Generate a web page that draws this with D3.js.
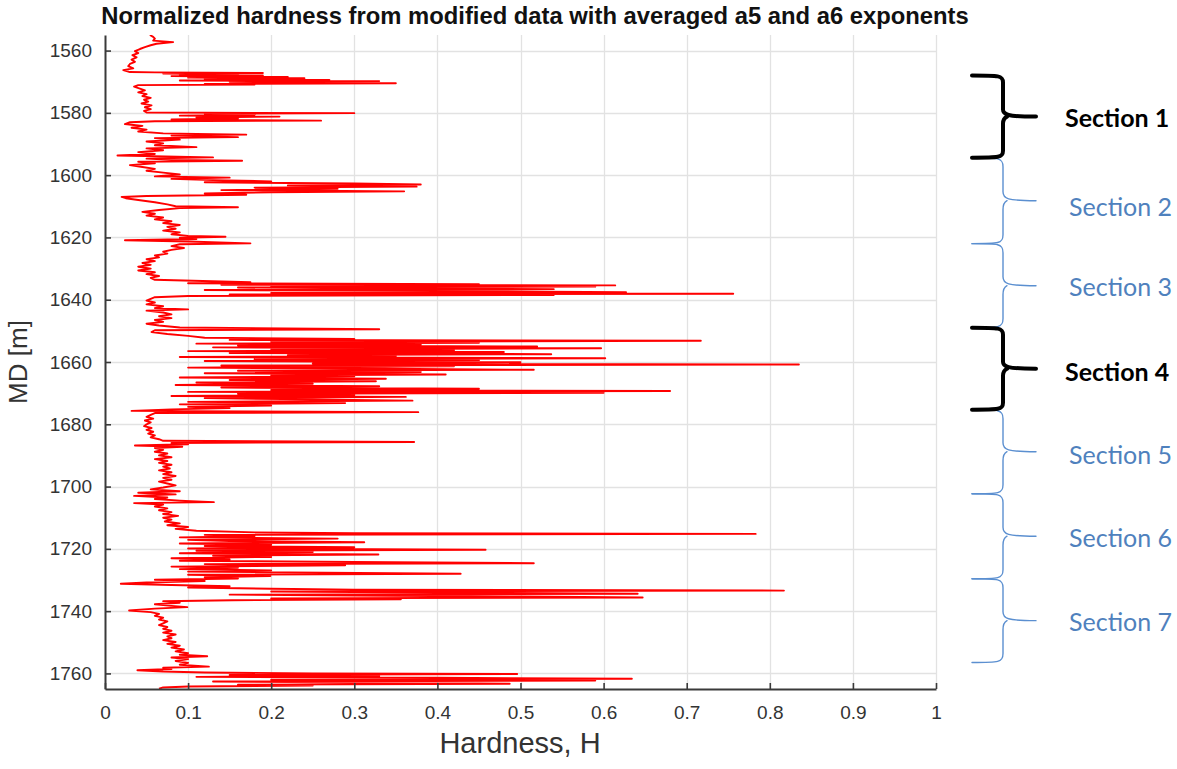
<!DOCTYPE html>
<html>
<head>
<meta charset="utf-8">
<script src="https://cdn.jsdelivr.net/npm/d3@7"></script>
<style>
  body { margin: 0; background: #fff; }
  svg { display: block; }
</style>
</head>
<body>
<div id="wrapper"></div>
<script>

// hardness log, [depth MD (m), normalized hardness H]
const log1555 = [
  [1555.0,.054],[1555.6,.058],[1556.2,.060],[1556.8,.058],[1557.3,.082],[1557.8,.062],[1558.3,.055],[1558.9,.048],
  [1559.5,.042],[1560.2,.036],[1560.8,.040],[1561.5,.033],[1562.2,.038],[1562.9,.032],[1563.6,.036],[1564.3,.030],
  [1565.0,.028],[1565.7,.034],[1566.3,.022],[1566.9,.030],
  [1567.0,.060],[1567.2,.190],[1567.4,.070],[1567.6,.160],[1567.8,.090],[1568.0,.190],[1568.2,.080],[1568.5,.220],
  [1568.7,.100],[1568.9,.240],[1569.1,.120],[1569.4,.270],[1569.6,.090],[1569.8,.330],[1570.0,.150],[1570.3,.270],
  [1570.5,.350],[1570.7,.120],[1570.9,.180],[1571.1,.040],
  [1571.6,.035],[1572.2,.042],[1572.8,.048],[1573.4,.040],[1574.0,.050],[1574.6,.045],[1575.2,.055],[1575.8,.047],
  [1576.4,.052],[1577.0,.044],[1577.6,.056],[1578.2,.048],[1578.8,.055],[1579.4,.047],
  [1579.9,.050],[1580.1,.300],[1580.3,.120],[1580.6,.180],[1580.9,.090],[1581.2,.210],[1581.5,.110],[1581.8,.160],
  [1582.1,.080],[1582.5,.260],[1582.7,.060],[1583.0,.030],
  [1583.6,.024],[1584.2,.045],[1584.8,.032],[1585.4,.050],[1586.0,.040],[1586.6,.070],[1587.0,.170],[1587.3,.080],
  [1587.8,.160],[1588.1,.060],[1588.6,.090],[1589.2,.050],[1589.8,.070],[1590.4,.060],[1591.0,.110],[1591.4,.050],
  [1592.0,.070],[1592.6,.040],[1593.2,.060],[1593.7,.015],[1594.3,.130],[1594.7,.050],[1595.1,.080],[1595.4,.165],
  [1595.7,.040],[1596.2,.060],[1596.8,.030],[1597.4,.045],[1598.0,.060],[1598.6,.050],[1599.2,.070],[1599.8,.090]
];

const log1600 = [
  [1600.4,.060],[1600.8,.150],[1601.2,.080],[1601.6,.130],[1602.0,.200],[1602.3,.120],[1602.7,.300],[1603.0,.380],
  [1603.3,.220],[1603.7,.375],[1604.0,.180],[1604.4,.280],[1604.8,.140],[1605.2,.360],[1605.5,.200],[1605.9,.120],
  [1606.3,.170],[1606.7,.050],[1607.0,.020],[1607.4,.025],
  [1608.0,.040],[1608.7,.060],[1609.4,.075],[1610.0,.085],[1610.3,.160],[1610.6,.090],[1611.2,.065],[1611.8,.045],
  [1612.4,.060],[1613.0,.050],[1613.6,.070],[1614.2,.060],[1614.8,.080],[1615.4,.070],[1616.0,.090],[1616.6,.075],
  [1617.2,.085],[1617.8,.070],[1618.4,.090],[1619.0,.080],
  [1619.5,.100],[1619.8,.145],[1620.1,.090],[1620.5,.110],[1620.9,.024],[1621.3,.100],[1621.9,.175],[1622.2,.090],
  [1622.8,.080],[1623.4,.095],[1624.0,.080],[1624.6,.070],[1625.2,.075],[1625.8,.060],[1626.4,.065],[1627.0,.050],
  [1627.6,.060],[1628.2,.045],[1628.8,.055],[1629.4,.040],[1630.0,.055],[1630.6,.040],[1631.2,.060],[1631.8,.050],
  [1632.4,.065],[1633.0,.055],[1633.6,.060],
  [1634.4,.175],[1634.7,.100],[1635.0,.450],[1635.2,.140],[1635.4,.614],[1635.6,.200],[1635.8,.590],[1636.1,.160],
  [1636.4,.350],[1636.6,.540],[1636.9,.120],[1637.2,.400],[1637.6,.627],[1637.8,.200],[1638.1,.756],[1638.3,.150],
  [1638.5,.540],[1638.8,.100],[1639.2,.060],[1639.7,.055],
  [1640.3,.050],[1640.9,.060],[1641.5,.050],[1642.1,.070],[1642.7,.060],[1643.1,.100],[1643.5,.050],[1644.1,.070],
  [1644.7,.080],[1645.3,.065],[1645.9,.080],[1646.5,.060],[1647.1,.070],[1647.7,.050],[1648.3,.065],[1648.9,.090],
  [1649.5,.330],[1649.8,.060]
];

const log1650 = [
  [1650.4,.056],[1651.0,.075],[1651.6,.100],
  [1652.2,.120],[1652.6,.300],[1652.9,.150],[1653.2,.717],[1653.5,.200],[1653.8,.450],[1654.1,.110],[1654.4,.380],
  [1654.7,.160],[1655.0,.520],[1655.3,.130],[1655.6,.597],[1655.9,.200],[1656.2,.420],[1656.5,.100],[1656.8,.480],
  [1657.1,.150],[1657.5,.537],[1657.8,.220],[1658.1,.350],[1658.4,.090],[1658.8,.602],[1659.1,.180],[1659.4,.450],
  [1659.7,.120],[1660.1,.500],[1660.5,.250],[1660.8,.835],[1661.1,.140],[1661.4,.420],[1661.8,.100],[1662.1,.300],
  [1662.5,.516],[1662.8,.160],[1663.2,.380],[1663.6,.120],[1664.0,.410],[1664.3,.200],[1664.6,.300],[1665.0,.090],
  [1665.4,.338],[1665.8,.150],[1666.2,.326],[1666.6,.110],[1667.0,.250],[1667.4,.085],[1667.8,.330],[1668.2,.140],
  [1668.6,.450],[1669.0,.200],[1669.3,.680],[1669.6,.100],[1669.9,.600],[1670.2,.160],[1670.6,.300],[1670.9,.080],
  [1671.2,.362],[1671.6,.120],[1672.0,.250],[1672.4,.370],[1672.8,.100],[1673.2,.289],[1673.6,.090],[1674.0,.200],
  [1674.4,.100],[1674.8,.150],[1675.2,.080],[1675.7,.032],[1676.1,.377],[1676.4,.060],
  [1677.0,.055],[1677.6,.050],[1678.2,.058],[1678.8,.048],[1679.4,.055],[1680.0,.050],[1680.6,.047],[1681.2,.056],
  [1681.8,.050],[1682.4,.058],[1683.0,.052],[1683.6,.060],[1684.2,.055],[1684.8,.065],[1685.3,.070],[1685.7,.372],
  [1686.0,.080],[1686.4,.100],[1686.8,.036],[1687.2,.093],[1687.6,.060],[1688.2,.070],[1688.8,.060],[1689.4,.075],
  [1690.0,.065],[1690.6,.080],[1691.2,.060],[1691.8,.075],[1692.4,.065],[1693.0,.080],[1693.6,.070],[1694.2,.078],
  [1694.8,.065],[1695.4,.080],[1696.0,.070],[1696.6,.085],[1697.2,.070],[1697.8,.080],[1698.4,.065],[1699.0,.075],
  [1699.6,.085]
];

const log1700 = [
  [1700.3,.070],[1700.9,.055],[1701.5,.090],[1702.0,.040],[1702.5,.085],[1703.0,.035],[1703.5,.075],[1704.0,.060],
  [1704.5,.090],[1705.0,.131],[1705.3,.035],[1705.8,.070],
  [1706.4,.060],[1707.0,.075],[1707.6,.065],[1708.2,.080],[1708.8,.070],[1709.4,.088],[1710.0,.070],[1710.6,.080],
  [1711.2,.072],[1711.8,.090],[1712.4,.075],[1713.0,.100],[1713.6,.085],[1714.2,.110],
  [1714.7,.180],[1715.0,.300],[1715.2,.783],[1715.5,.120],[1715.9,.180],[1716.3,.090],[1716.7,.280],[1717.1,.100],
  [1717.5,.150],[1717.9,.312],[1718.3,.090],[1718.7,.200],[1719.1,.120],[1719.5,.300],[1719.9,.100],[1720.3,.458],
  [1720.6,.110],[1721.0,.250],[1721.4,.090],[1721.8,.329],[1722.2,.130],[1722.6,.200],[1723.0,.080],[1723.4,.150],
  [1723.8,.090],[1724.2,.300],[1724.6,.516],[1724.9,.120],[1725.3,.289],[1725.7,.080],[1726.1,.160],[1726.5,.090],
  [1726.9,.200],[1727.3,.100],[1727.7,.304],[1728.0,.428],[1728.3,.100],[1728.7,.199],[1729.1,.120],[1729.5,.160],
  [1729.9,.060],[1730.3,.120],[1730.8,.050],[1731.2,.019],[1731.6,.080],[1732.0,.150],[1732.4,.100],[1732.8,.200],
  [1733.1,.300],[1733.4,.817],[1733.7,.200],[1734.0,.400],[1734.4,.641],[1734.7,.150],[1735.0,.300],[1735.3,.500],
  [1735.6,.647],[1735.9,.200],[1736.2,.356],[1736.5,.153],[1736.8,.070],[1737.3,.090],[1737.8,.060],[1738.3,.080],
  [1738.7,.099],[1739.2,.060],[1739.8,.029]
];

const log1740 = [
  [1740.3,.055],[1740.9,.065],[1741.5,.060],[1742.1,.070],[1742.7,.065],[1743.3,.075],[1743.9,.070],[1744.5,.065],
  [1745.1,.075],[1745.7,.070],[1746.3,.080],[1746.9,.070],[1747.5,.085],[1748.1,.075],[1748.7,.080],[1749.3,.070],
  [1749.9,.085],[1750.5,.075],[1751.1,.090],[1751.7,.080],[1752.3,.095],[1752.9,.085],[1753.5,.100],[1754.0,.090],
  [1754.5,.123],[1754.9,.080],[1755.4,.100],[1756.0,.085],[1756.6,.100],[1757.2,.090],[1757.8,.125],[1758.2,.070],
  [1758.6,.080],[1759.0,.039],[1759.4,.070],
  [1759.7,.120],[1760.0,.250],[1760.2,.496],[1760.5,.150],[1760.8,.330],[1761.1,.110],[1761.4,.400],[1761.7,.634],
  [1762.0,.200],[1762.3,.590],[1762.6,.130],[1762.9,.300],[1763.3,.487],[1763.6,.160],[1763.9,.250],[1764.2,.100],
  [1764.5,.070],[1764.9,.065]
];

const depthTicks = [1560, 1580, 1600, 1620, 1640, 1660, 1680, 1700, 1720, 1740, 1760];
const hardTicks = [0, 0.1, 0.2, 0.3, 0.4, 0.5, 0.6, 0.7, 0.8, 0.9, 1];

// section brackets: boundaries (m), label depths (m) and names
const sectionBounds = [1568, 1594.4, 1622, 1649, 1675.3, 1702.3, 1729.6, 1756.5];
const sectionLabelDepth = [1581.8, 1610.4, 1636, 1663.4, 1690, 1716.7, 1743.5];
const sectionNames = ["Section 1", "Section 2", "Section 3", "Section 4", "Section 5", "Section 6", "Section 7"];
const sectionBold = [true, false, false, true, false, false, false];

function drawChart() {

    const data = [].concat(log1555, log1600, log1650, log1700, log1740);

    const width = 1177;
    const height = 769;
    const dms = { left: 105, right: 936, top: 35, bottom: 689 };

    const svg = d3.select("#wrapper")
                    .append("svg")
                        .attr("width", width)
                        .attr("height", height);

    const xScale = d3.scaleLinear().domain([0, 1]).range([dms.left, dms.right]);
    const yScale = d3.scaleLinear().domain([1555, 1765]).range([dms.top, dms.bottom]);

    // grid
    const grid = svg.append("g")
                    .attr("stroke", "#e2e2e2")
                    .attr("stroke-width", 1.3);

    grid.selectAll(".vgrid")
        .data(hardTicks.slice(1))
        .join("line")
            .attr("x1", d => Math.round(xScale(d)) + 0.5)
            .attr("x2", d => Math.round(xScale(d)) + 0.5)
            .attr("y1", dms.top)
            .attr("y2", dms.bottom);

    grid.selectAll(".hgrid")
        .data(depthTicks)
        .join("line")
            .attr("x1", dms.left)
            .attr("x2", dms.right)
            .attr("y1", d => Math.round(yScale(d)) + 0.5)
            .attr("y2", d => Math.round(yScale(d)) + 0.5);

    // hardness trace
    svg.append("clipPath")
        .attr("id", "plotClip")
        .append("rect")
            .attr("x", dms.left)
            .attr("y", dms.top)
            .attr("width", dms.right - dms.left)
            .attr("height", dms.bottom - dms.top);

    const lineGen = d3.line()
                        .x(d => xScale(d[1]))
                        .y(d => yScale(d[0]));

    svg.append("path")
        .datum(data)
        .attr("clip-path", "url(#plotClip)")
        .attr("d", lineGen)
        .attr("fill", "none")
        .attr("stroke", "#ff0000")
        .attr("stroke-width", 1.9)
        .attr("stroke-linejoin", "round");

    // axes
    const tickFont = "'Liberation Sans', Arial, sans-serif";

    const yAxis = svg.append("g")
                    .attr("transform", `translate(${dms.left},0)`)
                    .call(d3.axisLeft(yScale)
                            .tickValues(depthTicks)
                            .tickSizeInner(-6)
                            .tickSizeOuter(0)
                            .tickPadding(13)
                            .tickFormat(d3.format("d")));

    const xAxis = svg.append("g")
                    .attr("transform", `translate(0,${dms.bottom})`)
                    .call(d3.axisBottom(xScale)
                            .tickValues(hardTicks)
                            .tickSizeInner(-6)
                            .tickSizeOuter(0)
                            .tickPadding(17)
                            .tickFormat(d3.format("~g")));

    [yAxis, xAxis].forEach(ax => {
        ax.select(".domain").attr("stroke", "#3a3a3a").attr("stroke-width", 2);
        ax.selectAll(".tick line").attr("stroke", "#3a3a3a").attr("stroke-width", 1.6);
        ax.selectAll(".tick text")
            .attr("fill", "#333")
            .style("font-family", tickFont)
            .style("font-size", "19px");
    });

    // titles
    svg.append("text")
        .attr("x", 535)
        .attr("y", 24)
        .attr("text-anchor", "middle")
        .attr("fill", "#111")
        .style("font-family", "'Liberation Sans', Arial, sans-serif")
        .style("font-weight", "bold")
        .style("font-size", "23.8px")
        .text("Normalized hardness from modified data with averaged a5 and a6 exponents");

    svg.append("text")
        .attr("x", 520)
        .attr("y", 753)
        .attr("text-anchor", "middle")
        .attr("fill", "#333")
        .style("font-family", tickFont)
        .style("font-size", "29px")
        .text("Hardness, H");

    svg.append("text")
        .attr("transform", `translate(27,362) rotate(-90)`)
        .attr("text-anchor", "middle")
        .attr("fill", "#333")
        .style("font-family", tickFont)
        .style("font-size", "26px")
        .text("MD [m]");

    // section brackets
    const braceX = 1003;
    const armX = 972;
    const tipX = 1036;

    const bracePath = function(y0, y1, r) {
        const ym = (y0 + y1) / 2;
        return `M${armX},${y0} C${braceX - 4},${y0} ${braceX},${y0} ${braceX},${y0 + r}` +
               ` L${braceX},${ym - r} C${braceX},${ym - 2} ${braceX + 4},${ym} ${tipX},${ym}` +
               ` M${braceX + 4},${ym} C${braceX},${ym + 2} ${braceX},${ym + r} ${braceX},${ym + r}` +
               ` L${braceX},${y1 - r} C${braceX},${y1} ${braceX - 4},${y1} ${armX},${y1}`;
    };

    const sections = sectionNames.map((name, i) => ({
        name,
        bold: sectionBold[i],
        y0: yScale(sectionBounds[i]),
        y1: yScale(sectionBounds[i + 1]),
        ly: yScale(sectionLabelDepth[i])
    }));

    const order = sections.filter(d => !d.bold).concat(sections.filter(d => d.bold));

    svg.append("g")
        .selectAll("path")
        .data(order)
        .join("path")
            .attr("d", d => bracePath(d.y0, d.y1, d.bold ? 7 : 9))
            .attr("fill", "none")
            .attr("stroke", d => d.bold ? "#000" : "#5b8fd0")
            .attr("stroke-width", d => d.bold ? 4 : 1.4)
            .attr("stroke-linecap", "round")
            .attr("stroke-linejoin", "round");

    svg.append("g")
        .selectAll("text")
        .data(sections)
        .join("text")
            .attr("x", d => d.bold ? 1065 : 1069)
            .attr("y", d => d.ly)
            .attr("dy", "0.35em")
            .attr("fill", d => d.bold ? "#000" : "#4f81bd")
            .style("font-family", "Lato, 'Open Sans', sans-serif")
            .style("font-weight", d => d.bold ? "bold" : "normal")
            .style("font-size", "25px")
            .text(d => d.name);
}

drawChart();
</script>
</body>
</html>
